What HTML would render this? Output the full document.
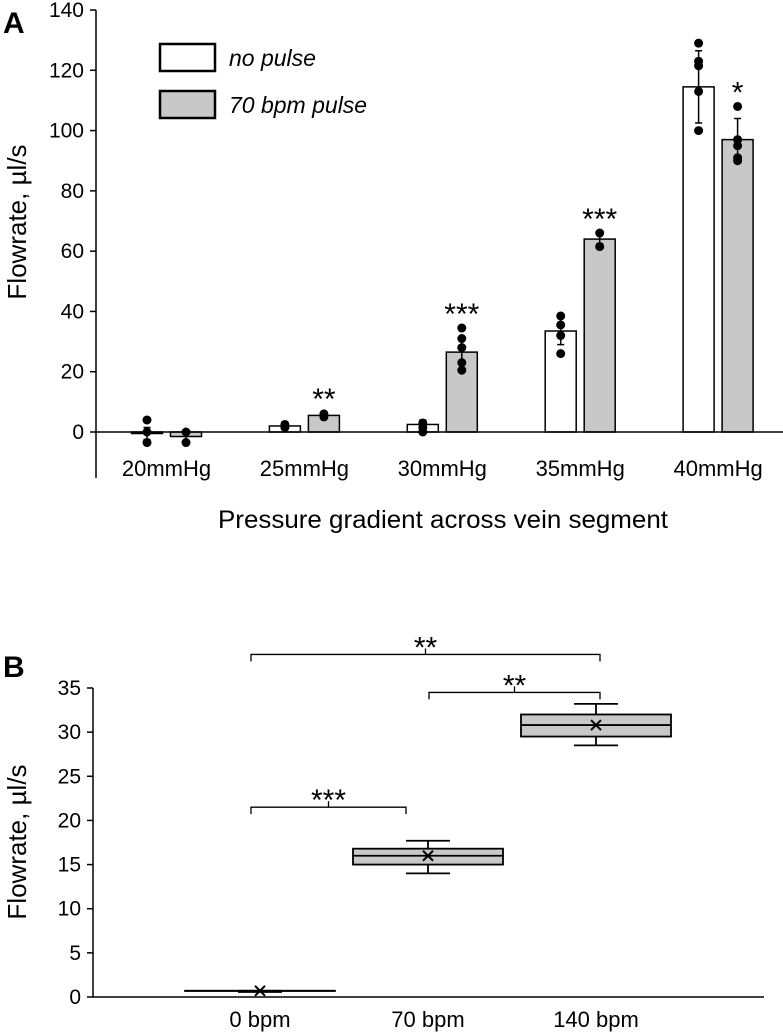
<!DOCTYPE html>
<html><head><meta charset="utf-8"><style>
html,body{margin:0;padding:0;background:#fff;}
svg{display:block;font-family:"Liberation Sans",Arial,sans-serif;}
</style></head><body>
<svg id="chart" width="783" height="1033" viewBox="0 0 783 1033">
<g id="A"></g>
<g id="B"></g>
</svg>
<script>
// Panel A data
const catsA = ["20mmHg","25mmHg","30mmHg","35mmHg","40mmHg"];
const noPulse = [-0.5, 2, 2.5, 33.5, 114.5];
const noPulseErr = [2, 1, 1.5, 4.5, 12];
const pulse = [-1.5, 5.5, 26.5, 64, 97];
const pulseErr = [1.5, 0.8, 4, 1.5, 7];
const noPulsePts = [[4,0,-3.5],[2.5,1.5],[3,1.5,0],[38.5,35.5,32,26],[129,123,121.5,113,100]];
const pulsePts = [[0,-3.5],[6,5],[34.5,31,28,23,20.5],[66,61.5],[108,97,95,91,90]];
const sigA = ["","**","***","***","*"];
const ticksA = [0,20,40,60,80,100,120,140];
// Panel B data
const catsB = ["0 bpm","70 bpm","140 bpm"];
const bMin = [0.7, 14, 28.5];
const bQ1 = [0.7, 15, 29.5];
const bMed = [0.7, 16, 30.8];
const bQ3 = [0.7, 16.8, 32];
const bMax = [0.7, 17.7, 33.2];
const bMean = [0.7, 16, 30.8];
const ticksB = [0,5,10,15,20,25,30,35];
const bracketFrom = [0,1,0];
const bracketTo = [1,2,2];
const bracketLevel = [21.5,34.5,38.8];
const bracketLabel = ["***","**","**"];

const NS="http://www.w3.org/2000/svg";
function mk(parent,tag,attrs,text){const e=document.createElementNS(NS,tag);for(const k in attrs)e.setAttribute(k,attrs[k]);if(text!==undefined)e.textContent=text;parent.appendChild(e);return e;}

// ---- Panel A ----
const A=document.getElementById('A');
const yA=v=>432-v*(422/140);
const xA=i=>166.5+i*137.9;
mk(A,'text',{x:3,y:33,'font-size':30,'font-weight':'bold',},'A');
let ax=mk(A,'line',{x1:96,y1:10,x2:96,y2:478,stroke:'#000','stroke-width':1.5});

ticksA.forEach(t=>{
  let l=mk(A,'line',{x1:90,x2:96,y1:yA(t),y2:yA(t),stroke:'#000','stroke-width':1.5});
  
  let tx=mk(A,'text',{x:84,y:yA(t)+7,'font-size':21,'text-anchor':'end'},String(t));
  
});
let t1=mk(A,'text',{transform:'translate(26,222) rotate(-90)','font-size':26,'text-anchor':'middle'},'Flowrate, µl/s');

let t2=mk(A,'text',{x:443,y:528,'font-size':25,'text-anchor':'middle',textLength:450,lengthAdjust:'spacingAndGlyphs'},'Pressure gradient across vein segment');

function drawBar(x,v,err,pts,fill,name){
  const y0=yA(0),y1=yA(v);
  let r=mk(A,'rect',{x:x-15.5,y:Math.min(y0,y1),width:31,height:Math.max(Math.abs(y1-y0),1.5),fill:fill,stroke:'#000','stroke-width':1.5});
  
  let e=mk(A,'path',{d:`M${x} ${yA(v+err)}V${yA(v-err)}M${x-3.5} ${yA(v+err)}H${x+3.5}M${x-3.5} ${yA(v-err)}H${x+3.5}`,stroke:'#000','stroke-width':1.5,fill:'none'});
  
  pts.forEach(p=>{let c=mk(A,'circle',{cx:x,cy:yA(p),r:4.5,fill:'#000'});
    });
}
catsA.forEach((c,i)=>{
  const cx=xA(i);
  drawBar(cx-19.5,noPulse[i],noPulseErr[i],noPulsePts[i],'#fff','bar-no-pulse');
  drawBar(cx+19.5,pulse[i],pulseErr[i],pulsePts[i],'#c8c8c8','bar-pulse');
  let tx=mk(A,'text',{x:cx,y:476,'font-size':22,'text-anchor':'middle'},c);
  
  if(sigA[i]){
    const top=Math.max(pulse[i]+pulseErr[i],...pulsePts[i]);
    let s=mk(A,'text',{x:cx+19.5,y:yA(top)-4,'font-size':30,'text-anchor':'middle'},sigA[i]);
    
  }
});
let zl=mk(A,'line',{x1:96,x2:783,y1:yA(0),y2:yA(0),stroke:'#000','stroke-width':1.5});

[['no pulse','#fff',44],['70 bpm pulse','#c8c8c8',91]].forEach(([lab,f,y])=>{
  let r=mk(A,'rect',{x:160,y:y,width:55,height:27,fill:f,stroke:'#000','stroke-width':2.5});
  
  let t=mk(A,'text',{x:229,y:y+22,'font-size':23,'font-style':'italic'},lab);
  
});

// ---- Panel B ----
const B=document.getElementById('B');
const yB=v=>997-v*(309/35);
const xB=i=>260+i*168;
mk(B,'text',{x:3,y:677,'font-size':30,'font-weight':'bold',},'B');
let ay=mk(B,'line',{x1:93,y1:688,x2:93,y2:997,stroke:'#000','stroke-width':1.5});

let xb=mk(B,'line',{x1:93,y1:997,x2:764,y2:997,stroke:'#000','stroke-width':1.5});

ticksB.forEach(t=>{
  let l=mk(B,'line',{x1:87,x2:93,y1:yB(t),y2:yB(t),stroke:'#000','stroke-width':1.5});
  
  let tx=mk(B,'text',{x:81,y:yB(t)+7,'font-size':21,'text-anchor':'end'},String(t));
  
});
let t3=mk(B,'text',{transform:'translate(26,842) rotate(-90)','font-size':26,'text-anchor':'middle'},'Flowrate, µl/s');

catsB.forEach((c,i)=>{
  const cx=xB(i);
  let tx=mk(B,'text',{x:cx,y:1027,'font-size':22,'text-anchor':'middle'},c);
  
  let w=mk(B,'path',{d:`M${cx} ${yB(bMax[i])}V${yB(bMin[i])}M${cx-22} ${yB(bMax[i])}H${cx+22}M${cx-22} ${yB(bMin[i])}H${cx+22}`,stroke:'#000','stroke-width':1.8,fill:'none'});
  
  let r=mk(B,'rect',{x:cx-75,y:yB(bQ3[i]),width:150,height:Math.max(yB(bQ1[i])-yB(bQ3[i]),0.1),fill:'#c8c8c8',stroke:'#000','stroke-width':1.8});
  
  let m=mk(B,'line',{x1:cx-75,x2:cx+75,y1:yB(bMed[i]),y2:yB(bMed[i]),stroke:'#000','stroke-width':1.8});
  
  if(i===0){
    let th=mk(B,'line',{x1:cx-22,x2:cx+22,y1:yB(bMed[i])+0.8,y2:yB(bMed[i])+0.8,stroke:'#000','stroke-width':2.5});
    
  }
  const my=yB(bMean[i]);
  let mm=mk(B,'path',{d:`M${cx-5} ${my-5}L${cx+5} ${my+5}M${cx-5} ${my+5}L${cx+5} ${my-5}`,stroke:'#000','stroke-width':2});
  
});
const leftOff=[-9,1,-9], rightOff=[-22,4,4];
bracketLabel.forEach((s,k)=>{
  const x1=xB(bracketFrom[k])+leftOff[k],x2=xB(bracketTo[k])+rightOff[k],y=yB(bracketLevel[k]);
  let p=mk(B,'path',{d:`M${x1} ${y+7}V${y}H${x2}V${y+7}M${(x1+x2)/2} ${y}V${y-6}`,stroke:'#000','stroke-width':1.3,fill:'none'});
  
  let t=mk(B,'text',{x:(x1+x2)/2,y:y+3,'font-size':30,'text-anchor':'middle'},s);
  
});
</script>
</body></html>
